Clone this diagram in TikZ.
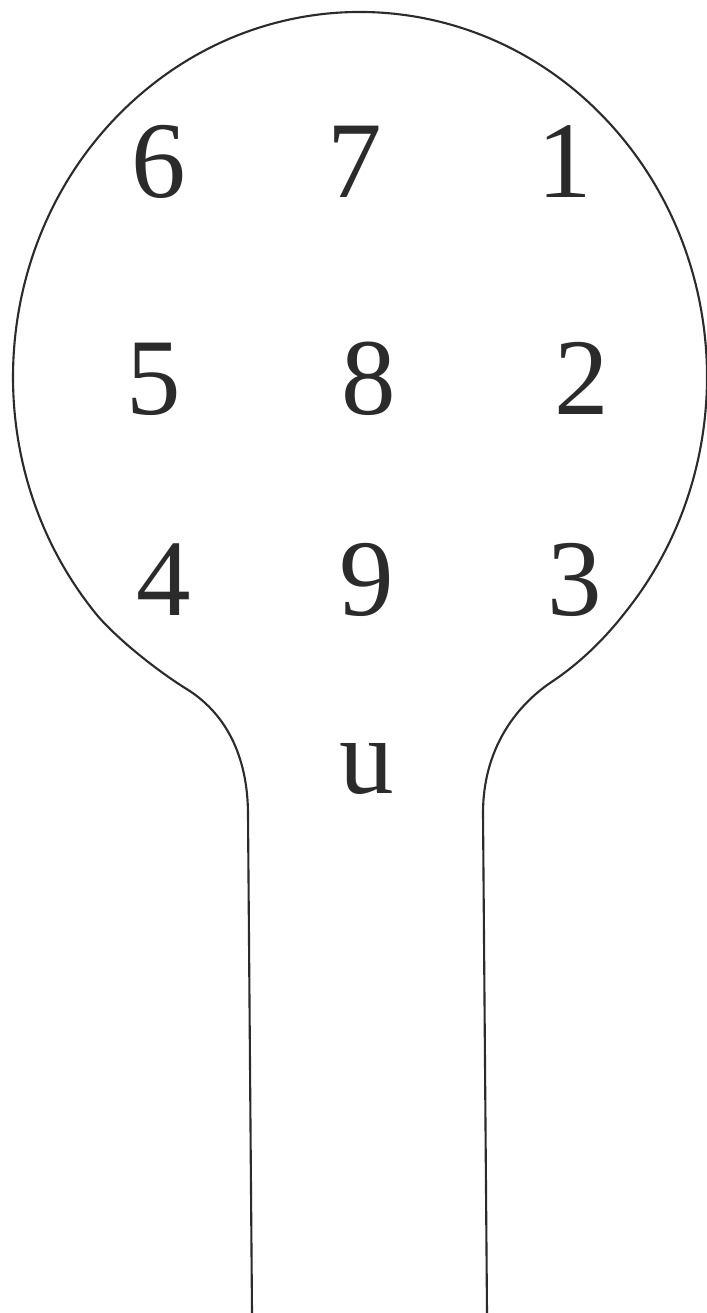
\documentclass[tikz,border=0pt]{standalone}
\usepackage{fontspec}
\setmainfont{Liberation Serif}
\usetikzlibrary{positioning}
\usepackage{xcolor}
\definecolor{inkgray}{HTML}{2B2B2B}

\begin{document}
\begin{tikzpicture}[x=0.01cm, y=-0.01cm,
    padnum/.style={anchor=base, inner sep=0pt, text=inkgray, font=\fontsize{31}{36}\selectfont},
    outline/.style={draw=inkgray, line width=0.6pt, line join=round}]
  \useasboundingbox (0,0) rectangle (707,1313);

  % spoon outline: handle, neck and head
  \coordinate (lbot) at (252,1313);
  \coordinate (ltop) at (248,815);
  \coordinate (rtop) at (483,813);
  \coordinate (rbot) at (487,1313);
  \draw[outline] (lbot) -- (ltop)
    .. controls (248,755) and (225,712) .. (185,688)
    .. controls (150,666) and (110,632) .. (94.2,611.6)
    arc[start angle=140, end angle=400, x radius=347, y radius=365]
    .. controls (610,632) and (585,660) .. (550,683)
    .. controls (515,707) and (483,750) .. (rtop) -- (rbot);

  % pad numbers
  \node[padnum] (n6) at (159,198) {6};
  \node[padnum] (n7) at (355,198) {7};
  \node[padnum] (n1) at (565,198) {1};
  \node[padnum] (n5) at (154,415) {5};
  \node[padnum] (n8) at (369,415) {8};
  \node[padnum] (n2) at (582,415) {2};
  \node[padnum] (n4) at (164,615) {4};
  \node[padnum] (n9) at (367,615) {9};
  \node[padnum] (n3) at (575,615) {3};
  \node[padnum] (nu) at (367,793) {u};
\end{tikzpicture}
\end{document}
